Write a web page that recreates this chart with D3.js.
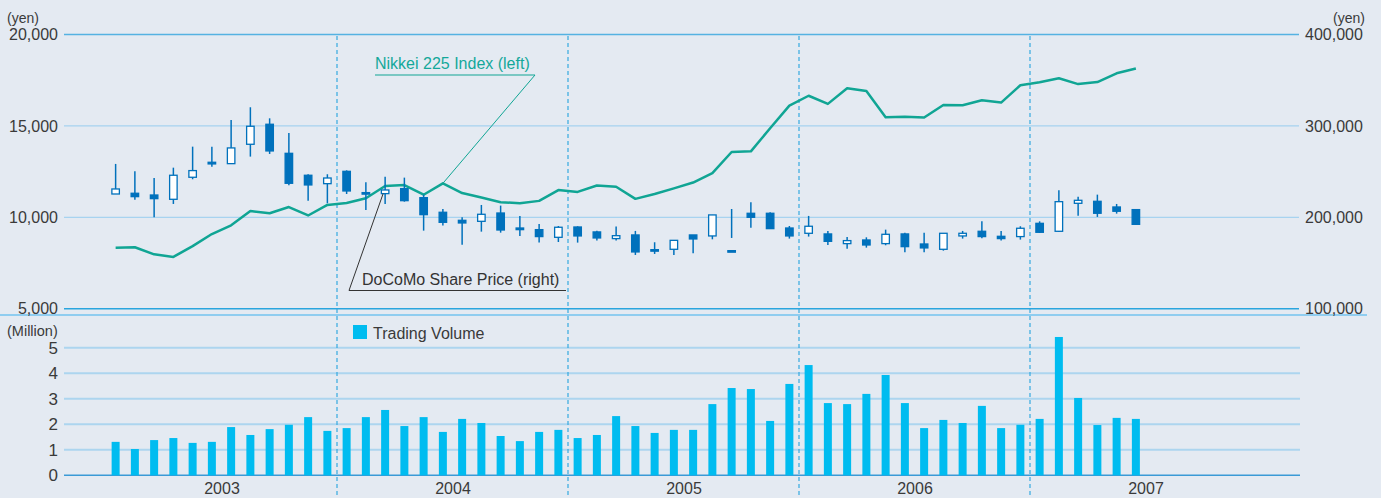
<!DOCTYPE html>
<html>
<head>
<meta charset="utf-8">
<script src="https://cdn.jsdelivr.net/npm/d3@7"></script>
<style>
  body { margin: 0; background: #e4eaf2; }
  svg { display: block; font-family: "Liberation Sans", Arial, sans-serif; }
</style>
</head>
<body>
<div id="wrapper"></div>
<script>
// month-end Nikkei 225 close (yen), Jan 2003 - Jun 2007
const nikkei = [
  8340, 8363, 7973, 7831, 8425, 9083, 9563, 10343, 10219, 10560, 10100, 10677,
  10784, 11041, 11715, 11761, 11236, 11858, 11326, 11082, 10824, 10771, 10899, 11489,
  11388, 11740, 11668, 11009, 11277, 11584, 11900, 12414, 13574, 13607, 14872, 16111,
  16650, 16205, 17060, 16906, 15467, 15505, 15457, 16141, 16128, 16399, 16274, 17226,
  17383, 17604, 17288, 17400, 17876, 18138
];

// DoCoMo monthly candles (yen)
const priceOpen = [
  225500, 226300, 224400, 219700, 243800, 260200, 258700, 279900, 301800, 270000, 246000, 236800,
  250300, 227000, 225900, 231400, 221500, 205500, 196700, 195600, 204700, 188300, 186500, 178100,
  189400, 184000, 176700, 180700, 164600, 165000, 180700, 179600, 163500, 204400, 204400, 188300,
  182500, 181800, 171200, 175200, 171200, 181800, 170800, 165000, 179600, 184700, 179200, 178900,
  193400, 184700, 215300, 217500, 211300, 208400
];
const priceHigh = [
  258400, 250300, 243000, 254300, 277300, 277300, 306500, 320400, 308300, 292300, 247100, 247100,
  251400, 238300, 244500, 243400, 224800, 209100, 200000, 213500, 212800, 201500, 192700, 190500,
  190200, 185400, 189800, 185100, 172700, 174800, 180700, 202600, 209100, 216400, 205500, 190500,
  201500, 185100, 178500, 178100, 186500, 183200, 183200, 182500, 185100, 195600, 185100, 190200,
  195600, 229500, 222600, 224800, 214600, 209100
];
const priceLow = [
  225500, 219300, 200000, 214600, 241600, 255400, 258700, 266400, 269300, 235000, 218200, 215300,
  225500, 208000, 214600, 217100, 185400, 190900, 170100, 184300, 183200, 179600, 172300, 173000,
  172300, 174500, 174500, 158800, 159900, 158800, 160600, 175900, 177400, 188700, 187600, 176700,
  178900, 169700, 165700, 166800, 169400, 161700, 161700, 163500, 176700, 177000, 174500, 175600,
  182900, 184000, 201800, 200400, 204000, 191600
];
const priceClose = [
  231000, 222600, 220400, 246000, 251100, 258400, 275900, 299600, 272600, 237200, 235400, 243000,
  228800, 225500, 229900, 218200, 202900, 194500, 193800, 203300, 186100, 186500, 178900, 189100,
  179600, 177400, 179900, 162100, 163200, 174800, 176300, 202600, 162100, 200000, 187600, 179600,
  190200, 173700, 174500, 169700, 181400, 167900, 166500, 182500, 182500, 178900, 176700, 188000,
  183600, 217100, 218600, 204400, 206600, 192300
];

// monthly trading volume (million shares)
const volume = [
  1.31, 1.03, 1.38, 1.46, 1.27, 1.31, 1.89, 1.58, 1.81, 1.98, 2.28, 1.74,
  1.85, 2.28, 2.56, 1.93, 2.28, 1.70, 2.21, 2.05, 1.54, 1.34, 1.70, 1.78,
  1.46, 1.58, 2.32, 1.93, 1.66, 1.78, 1.78, 2.79, 3.42, 3.38, 2.13, 3.58,
  4.32, 2.83, 2.79, 3.19, 3.93, 2.83, 1.85, 2.17, 2.05, 2.72, 1.85, 1.98,
  2.21, 5.42, 3.03, 1.97, 2.25, 2.21
];

const years = [2003, 2004, 2005, 2006, 2007];
const leftTicks = [5000, 10000, 15000, 20000];
const rightTicks = [100000, 200000, 300000, 400000];
const volTicks = [0, 1, 2, 3, 4, 5];

const months = d3.timeMonths(new Date(2003, 0, 1), new Date(2008, 0, 1)); // 60 slots
const data = nikkei.map((v, i) => ({
  month: months[i], nikkei: v,
  open: priceOpen[i], high: priceHigh[i], low: priceLow[i], close: priceClose[i],
  volume: volume[i]
}));

const dimension = { width: 1381, height: 498, left: 64, right: 1299 };
const blueDark = "#0071bc";
const teal = "#10a594";
const textColor = "#3a3a3a";

const svg = d3.select("#wrapper").append("svg")
  .attr("width", dimension.width)
  .attr("height", dimension.height);

svg.append("rect").attr("width", dimension.width).attr("height", dimension.height).attr("fill", "#e4eaf2");

const xScaler = d3.scaleBand().domain(months).range([106, 1261]);
const xMid = d => xScaler(d.month) + xScaler.bandwidth() / 2;
const yearScaler = d3.scaleLinear().domain([2003, 2008]).range([106, 1261]);

const yLeft = d3.scaleLinear().domain([5000, 20000]).range([308.7, 34.5]);
const yRight = d3.scaleLinear().domain([100000, 400000]).range([308.7, 34.5]);
const yVol = d3.scaleLinear().domain([0, 5]).range([475.3, 347.7]);

// gridlines - top panel
const gridColor = { 5000: "#2aa5de", 10000: "#98cdef", 15000: "#98cdef", 20000: "#55b2e2" };
svg.append("g").selectAll("line").data(leftTicks).join("line")
  .attr("x1", dimension.left).attr("x2", dimension.right)
  .attr("y1", d => yLeft(d)).attr("y2", d => yLeft(d))
  .attr("stroke", d => gridColor[d])
  .attr("stroke-width", d => (d == 5000 || d == 20000) ? 1.5 : 1);

// panel separator
svg.append("line")
  .attr("x1", 0).attr("x2", 1367).attr("y1", 315).attr("y2", 315)
  .attr("stroke", "#8fcdf0").attr("stroke-width", 2);

// gridlines - volume panel
svg.append("g").selectAll("line").data(volTicks).join("line")
  .attr("x1", dimension.left).attr("x2", 1300)
  .attr("y1", d => yVol(d)).attr("y2", d => yVol(d))
  .attr("stroke", d => d == 0 ? "#3a9ad6" : "#acd5ef")
  .attr("stroke-width", d => d == 0 ? 1.5 : 2);

// year separators
svg.append("g").selectAll("line").data(years.slice(1)).join("line")
  .attr("x1", d => yearScaler(d)).attr("x2", d => yearScaler(d))
  .attr("y1", 36).attr("y2", 498)
  .attr("stroke", "#36a9e0").attr("stroke-width", 1.2)
  .attr("stroke-dasharray", "4,3");

// axes
function styleAxis(g, size) {
  g.select(".domain").remove();
  g.selectAll("text").attr("fill", textColor).attr("font-size", size)
    .attr("font-family", "'Liberation Sans', Arial, sans-serif");
}
svg.append("g").attr("transform", `translate(${dimension.left},0)`)
  .call(d3.axisLeft(yLeft).tickValues(leftTicks).tickSize(0).tickPadding(6).tickFormat(d3.format(",")))
  .call(g => styleAxis(g, 16));
svg.append("g").attr("transform", `translate(${dimension.right},0)`)
  .call(d3.axisRight(yRight).tickValues(rightTicks).tickSize(0).tickPadding(6).tickFormat(d3.format(",")))
  .call(g => styleAxis(g, 16));
svg.append("g").attr("transform", `translate(${dimension.left},0)`)
  .call(d3.axisLeft(yVol).tickValues(volTicks).tickSize(0).tickPadding(6).tickFormat(d3.format("d")))
  .call(g => styleAxis(g, 17));
svg.append("g").attr("transform", "translate(0,475)")
  .call(d3.axisBottom(yearScaler).tickValues(years.map(d => d + 0.5)).tickSize(0).tickPadding(8).tickFormat(d => Math.floor(d)))
  .call(g => styleAxis(g, 16));

// unit labels
svg.append("text").attr("x", 7).attr("y", 23).attr("font-size", 14).attr("fill", textColor).text("(yen)");
svg.append("text").attr("x", 1365).attr("y", 23).attr("font-size", 14).attr("fill", textColor).attr("text-anchor", "end").text("(yen)");
svg.append("text").attr("x", 7).attr("y", 336).attr("font-size", 14.5).attr("fill", textColor).text("(Million)");

// volume bars
svg.append("g").selectAll("rect").data(data).join("rect")
  .attr("x", d => xMid(d) - 4)
  .attr("width", 8)
  .attr("y", d => yVol(d.volume))
  .attr("height", d => yVol(0) - yVol(d.volume))
  .attr("fill", "#00bcf0");

// Nikkei line
const lineGenerator = d3.line()
  .x(d => xMid(d))
  .y(d => yLeft(d.nikkei));
svg.append("path")
  .attr("d", lineGenerator(data))
  .attr("fill", "none")
  .attr("stroke", teal)
  .attr("stroke-width", 2.5)
  .attr("stroke-linejoin", "round");

// candles
const candles = svg.append("g").selectAll("g").data(data).join("g");
candles.append("line")
  .attr("x1", d => xMid(d)).attr("x2", d => xMid(d))
  .attr("y1", d => yRight(d.high)).attr("y2", d => yRight(d.low))
  .attr("stroke", blueDark).attr("stroke-width", 1.5);
candles.append("rect")
  .attr("x", d => xMid(d) - 3.75)
  .attr("width", 7.5)
  .attr("y", d => yRight(Math.max(d.open, d.close)))
  .attr("height", d => Math.max(1.5, yRight(Math.min(d.open, d.close)) - yRight(Math.max(d.open, d.close))))
  .attr("fill", d => d.close > d.open ? "#ffffff" : blueDark)
  .attr("stroke", blueDark).attr("stroke-width", 1.3);

// annotations
const nk = data[17];
svg.append("path")
  .attr("d", `M375,75 L535,75 L${xMid(nk)},${yLeft(nk.nikkei)}`)
  .attr("fill", "none").attr("stroke", teal).attr("stroke-width", 1);
svg.append("text").attr("x", 375).attr("y", 69).attr("font-size", 16).attr("fill", "#14a89a")
  .text("Nikkei 225 Index (left)");

const dc = data[14];
svg.append("path")
  .attr("d", `M566,290.5 L349,290.5 L${xMid(dc) - 2},${yRight(dc.open)}`)
  .attr("fill", "none").attr("stroke", "#333").attr("stroke-width", 1);
svg.append("text").attr("x", 362).attr("y", 285).attr("font-size", 16).attr("fill", "#333")
  .text("DoCoMo Share Price (right)");

// volume legend
svg.append("rect").attr("x", 353).attr("y", 325).attr("width", 14).attr("height", 14).attr("fill", "#00bcf0");
svg.append("text").attr("x", 373).attr("y", 339).attr("font-size", 16).attr("fill", textColor).text("Trading Volume");
</script>
</body>
</html>
